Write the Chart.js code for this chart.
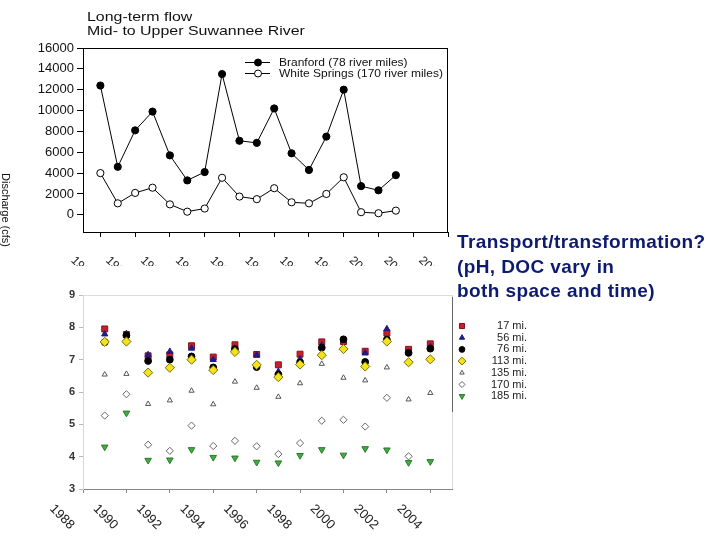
<!DOCTYPE html>
<html>
<head>
<meta charset="utf-8">
<title>Suwannee River flow and pH</title>
<script src="https://cdn.jsdelivr.net/npm/chart.js@4.4.0/dist/chart.umd.min.js"></script>
<style>
    html, body { margin: 0; padding: 0; background: #fff; width: 720px; height: 540px; overflow: hidden; }
    #flowWrap { position: absolute; left: 0; top: 0; width: 455px; height: 266px; }
    #phWrap { position: absolute; left: 0; top: 280px; width: 560px; height: 260px; }
    #note {
        position: absolute; left: 457px; top: 230px;
        font: bold 19px 'Liberation Sans', Arial, sans-serif;
        letter-spacing: 0.4px;
        color: #0c1a70; line-height: 24.5px; white-space: nowrap;
    }
</style>
</head>
<body>
<div id="flowWrap"><canvas id="flowChart" width="455" height="266"></canvas></div>
<div id="phWrap"><canvas id="phChart" width="560" height="260"></canvas></div>
<div id="note">Transport/transformation?<br>(pH, DOC vary in<br>both space and time)</div>

<script>
// ============================================
// Data - long-term flow (top chart)
// ============================================
const flowYears = [1984, 1985, 1986, 1987, 1988, 1989, 1990, 1991, 1992,
                   1993, 1994, 1995, 1996, 1997, 1998, 1999, 2000, 2001];
const branford = [12400, 4600, 8100, 9900, 5700, 3300, 4100, 13500, 7100,
                  6900, 10200, 5900, 4300, 7500, 12000, 2750, 2350, 3800];
const whiteSprings = [4000, 1100, 2100, 2600, 1000, 300, 600, 3550, 1750,
                      1500, 2550, 1200, 1100, 2000, 3600, 250, 150, 400];
const flowSeriesNames = ['Branford (78 river miles)', 'White Springs (170 river miles)'];
const flowYTicks = [0, 2000, 4000, 6000, 8000, 10000, 12000, 14000, 16000];
const flowXTicks = [1984, 1986, 1988, 1990, 1992, 1994, 1996, 1998, 2000, 2002, 2004];

// ============================================
// Data - pH by site (bottom chart)
// ============================================
const phYears = [1989, 1990, 1991, 1992, 1993, 1994, 1995, 1996,
                 1997, 1998, 1999, 2000, 2001, 2002, 2003, 2004];
const phSites = ['17 mi.', '56 mi.', '76 mi.', '113 mi.', '135 mi.', '170 mi.', '185 mi.'];
const ph17  = [7.95, 7.78, 7.12, 7.15, 7.43, 7.08, 7.46, 7.16, 6.84, 7.17, 7.55, 7.56, 7.26, 7.82, 7.32, 7.49];
const ph56  = [7.79, 7.80, 7.15, 7.25, 7.35, 7.00, 7.35, 7.15, 6.63, 7.02, 7.45, 7.60, 7.20, 7.95, 7.22, 7.40];
const ph76  = [7.54, 7.75, 6.96, 7.00, 7.10, 6.76, 7.33, 6.77, 6.54, 6.91, 7.37, 7.63, 6.93, 7.62, 7.21, 7.34];
const ph113 = [7.55, 7.56, 6.60, 6.75, 7.00, 6.68, 7.24, 6.84, 6.46, 6.85, 7.14, 7.33, 6.79, 7.56, 6.92, 7.01];
const ph135 = [6.54, 6.56, 5.63, 5.74, 6.04, 5.62, 6.32, 6.13, 5.85, 6.27, 6.87, 6.44, 6.36, 6.76, 5.77, 5.97];
const ph170 = [5.27, 5.93, 4.37, 4.18, 4.96, 4.33, 4.49, 4.32, 4.08, 4.42, 5.11, 5.14, 4.93, 5.82, 4.01, null];
const ph185 = [4.30, 5.35, 3.89, 3.90, 4.22, 3.98, 3.96, 3.83, 3.81, 4.04, 4.22, 4.05, 4.25, 4.21, 3.82, 3.85];
const phYTicks = [3, 4, 5, 6, 7, 8, 9];
const phXTicks = [1988, 1990, 1992, 1994, 1996, 1998, 2000, 2002, 2004];

const FONT = "'Liberation Sans', Arial, sans-serif";

function toPoints(xs, ys) {
    return xs.map((x, i) => ({ x: x, y: ys[i] }));
}

// text that is a little wider than the font, like the stretched slide image
function wideText(ctx, text, x, y, sx) {
    ctx.save();
    ctx.translate(x, y);
    ctx.scale(sx, 1);
    ctx.fillText(text, 0, 0);
    ctx.restore();
}

// rotated (clockwise) year labels under an x scale
function drawSlantedLabels(ctx, scale, ticks, dx, cy, size) {
    ctx.save();
    ctx.font = size + 'px ' + FONT;
    ctx.fillStyle = '#222';
    ctx.textAlign = 'center';
    ctx.textBaseline = 'middle';
    ticks.forEach(t => {
        const x = scale.getPixelForValue(t);
        ctx.save();
        ctx.translate(x + dx, cy);
        ctx.rotate(Math.PI / 4);
        ctx.fillText(String(t), 0, 0);
        ctx.restore();
    });
    ctx.restore();
}

// ============================================
// Top chart: long-term flow
// ============================================
const flowDecor = {
    id: 'flowDecor',
    afterDraw(chart) {
        const ctx = chart.ctx;
        const a = chart.chartArea;

        // frame
        ctx.save();
        ctx.strokeStyle = '#000';
        ctx.lineWidth = 1;
        ctx.strokeRect(Math.round(a.left) + 0.5, Math.round(a.top) + 0.5,
                       Math.round(a.right - a.left) - 1, Math.round(a.bottom - a.top));

        // title
        ctx.fillStyle = '#111';
        ctx.font = '13.5px ' + FONT;
        ctx.textBaseline = 'middle';
        ctx.textAlign = 'left';
        wideText(ctx, 'Long-term flow', 87, 17, 1.18);
        wideText(ctx, 'Mid- to Upper Suwannee River', 87, 31, 1.18);

        // y axis title (reads downward)
        ctx.save();
        ctx.font = '11px ' + FONT;
        ctx.translate(5, 173);
        ctx.rotate(Math.PI / 2);
        ctx.textAlign = 'left';
        ctx.fillText('Discharge (cfs)', 0, 0);
        ctx.restore();

        // legend
        ctx.font = '11px ' + FONT;
        chart.data.datasets.forEach((ds, i) => {
            const y = 62.5 + i * 11;
            ctx.beginPath();
            ctx.moveTo(245, y);
            ctx.lineTo(270, y);
            ctx.strokeStyle = '#000';
            ctx.stroke();
            ctx.beginPath();
            ctx.arc(258, y, 3.5, 0, Math.PI * 2);
            ctx.fillStyle = ds.pointBackgroundColor;
            ctx.fill();
            ctx.stroke();
            ctx.fillStyle = '#111';
            wideText(ctx, ds.label, 279, y, 1.09);
        });
        ctx.restore();

        // clipped slanted year labels
        drawSlantedLabels(ctx, chart.scales.x, flowXTicks, -18, 268, 12);
    }
};

new Chart(document.getElementById('flowChart'), {
    type: 'line',
    data: {
        datasets: [
            {
                label: flowSeriesNames[0],
                data: toPoints(flowYears, branford),
                borderColor: '#000',
                borderWidth: 1,
                pointRadius: 3.6,
                pointBackgroundColor: '#000',
                pointBorderColor: '#000',
                pointBorderWidth: 1
            },
            {
                label: flowSeriesNames[1],
                data: toPoints(flowYears, whiteSprings),
                borderColor: '#000',
                borderWidth: 1,
                pointRadius: 3.6,
                pointBackgroundColor: '#fff',
                pointBorderColor: '#000',
                pointBorderWidth: 1
            }
        ]
    },
    options: {
        responsive: false,
        animation: false,
        layout: { padding: { top: 48, right: 7, bottom: 0, left: 0 } },
        plugins: { legend: { display: false }, tooltip: { enabled: false } },
        scales: {
            x: {
                type: 'linear',
                min: 1983,
                max: 2004,
                afterBuildTicks: s => { s.ticks = flowXTicks.map(v => ({ value: v })); },
                afterFit: s => { s.height = 34; },
                ticks: { display: false },
                grid: { drawOnChartArea: false, tickLength: 5, color: '#000' },
                border: { color: '#000' }
            },
            y: {
                min: -1650,
                max: 16000,
                afterBuildTicks: s => { s.ticks = flowYTicks.map(v => ({ value: v })); },
                afterFit: s => { s.width = 83; },
                ticks: {
                    font: { family: FONT, size: 13 },
                    color: '#111',
                    padding: 3,
                    callback: v => String(v)
                },
                grid: { drawOnChartArea: false, tickLength: 6, color: '#000' },
                border: { color: '#000' }
            }
        }
    },
    plugins: [flowDecor]
});

// ============================================
// Bottom chart: pH by river mile
// ============================================
const phSeries = [ph17, ph56, ph76, ph113, ph135, ph170, ph185];
const phStyles = [
    { pointStyle: 'rect',     radius: 4.2, fill: '#c8202a', stroke: '#8a1018', rotation: 0 },
    { pointStyle: 'triangle', radius: 3.6, fill: '#1c1c8a', stroke: '#1c1c8a', rotation: 0 },
    { pointStyle: 'circle',   radius: 3.4, fill: '#000',    stroke: '#000',    rotation: 0 },
    { pointStyle: 'rectRot',  radius: 4.6, fill: '#f4e31c', stroke: '#7a7000', rotation: 0 },
    { pointStyle: 'triangle', radius: 3.0, fill: '#fff',    stroke: '#555',    rotation: 0 },
    { pointStyle: 'rectRot',  radius: 3.6, fill: '#fff',    stroke: '#666',    rotation: 0 },
    { pointStyle: 'triangle', radius: 3.8, fill: '#3fae3f', stroke: '#2a7a2a', rotation: 180 }
];

const phDecor = {
    id: 'phDecor',
    afterDraw(chart) {
        const ctx = chart.ctx;
        const a = chart.chartArea;
        ctx.save();

        // light plot border top, darker right edge
        ctx.lineWidth = 1;
        ctx.strokeStyle = '#dcdcdc';
        ctx.beginPath();
        ctx.moveTo(a.left, Math.round(a.top) + 0.5);
        ctx.lineTo(a.right, Math.round(a.top) + 0.5);
        ctx.moveTo(Math.round(a.right) + 0.5, a.top);
        ctx.lineTo(Math.round(a.right) + 0.5, a.bottom);
        ctx.stroke();
        ctx.strokeStyle = '#666';
        ctx.beginPath();
        ctx.moveTo(Math.round(a.right) + 0.5, a.top + 2);
        ctx.lineTo(Math.round(a.right) + 0.5, a.top + 117);
        ctx.stroke();

        // legend
        ctx.font = '11px ' + FONT;
        ctx.textBaseline = 'middle';
        ctx.textAlign = 'right';
        chart.data.datasets.forEach((ds, i) => {
            const y = 46 + i * 11.7;
            const st = phStyles[i];
            ctx.fillStyle = st.fill;
            ctx.strokeStyle = st.stroke;
            ctx.lineWidth = 1;
            Chart.helpers.drawPoint(ctx, {
                pointStyle: st.pointStyle,
                rotation: st.rotation,
                radius: st.radius * 0.85,
                borderWidth: 1
            }, 462, y);
            ctx.fillStyle = '#222';
            ctx.fillText(ds.label, 527, y);
        });
        ctx.restore();

        drawSlantedLabels(ctx, chart.scales.x, phXTicks, -21, 237, 13);
    }
};

new Chart(document.getElementById('phChart'), {
    type: 'line',
    data: {
        datasets: phSeries.map((vals, i) => ({
            label: phSites[i],
            data: toPoints(phYears, vals),
            showLine: false,
            pointStyle: phStyles[i].pointStyle,
            rotation: phStyles[i].rotation,
            pointRadius: phStyles[i].radius,
            pointBackgroundColor: phStyles[i].fill,
            pointBorderColor: phStyles[i].stroke,
            pointBorderWidth: 1,
            order: phSeries.length - i
        }))
    },
    options: {
        responsive: false,
        animation: false,
        layout: { padding: { top: 15, right: 108, bottom: 0, left: 0 } },
        plugins: { legend: { display: false }, tooltip: { enabled: false } },
        scales: {
            x: {
                type: 'linear',
                min: 1988,
                max: 2005,
                afterBuildTicks: s => { s.ticks = phXTicks.map(v => ({ value: v })); },
                afterFit: s => { s.height = 51; },
                ticks: { display: false },
                grid: { drawOnChartArea: false, tickLength: 4, color: '#888' },
                border: { color: '#888' }
            },
            y: {
                min: 3,
                max: 9,
                afterBuildTicks: s => { s.ticks = phYTicks.map(v => ({ value: v })); },
                afterFit: s => { s.width = 83; },
                ticks: { font: { family: FONT, size: 11, weight: 'bold' }, color: '#333', padding: 4 },
                grid: { drawOnChartArea: false, tickLength: 4, color: '#bbb' },
                border: { color: '#d6d6d6' }
            }
        }
    },
    plugins: [phDecor]
});
</script>
</body>
</html>
